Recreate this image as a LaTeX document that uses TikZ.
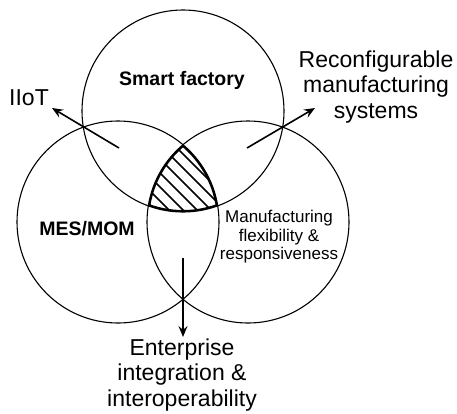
\documentclass[tikz,border=0pt]{standalone}
\usepackage{fontspec}
\setmainfont{Liberation Sans}
\usetikzlibrary{arrows.meta}
\begin{document}
\begin{tikzpicture}[x=1pt,y=-1pt,
  ring/.style={draw,line width=1.1pt},
  arr/.style={line width=1.6pt,-{Stealth[length=11pt,width=9pt,inset=4pt]}},
  big/.style={align=center,font=\fontsize{23}{25.5}\selectfont},
  boldlab/.style={font=\fontsize{19.5}{22}\selectfont\bfseries},
  small/.style={align=center,font=\fontsize{17}{18.5}\selectfont}]
\useasboundingbox (0,0) rectangle (457,413);
\coordinate (T) at (183,111);
\coordinate (L) at (118,222);
\coordinate (R) at (248,222);
\draw[ring] (T) circle[radius=101];
\draw[ring] (L) circle[radius=101];
\draw[ring] (R) circle[radius=101];
\begin{scope}
  \clip (T) circle[radius=101];
  \clip (L) circle[radius=101];
  \clip (R) circle[radius=101];
  \foreach \k in {-120,-113,...,120}
    \draw[line width=1.5pt] ({183+\k-80},{180-\k-80}) -- ({183+\k+80},{180-\k+80});
  \draw[line width=4pt] (T) circle[radius=101];
  \draw[line width=4pt] (L) circle[radius=101];
  \draw[line width=4pt] (R) circle[radius=101];
\end{scope}
\node[boldlab] (sf) at (182,80) {Smart factory};
\node[boldlab] (mes) at (87,229) {MES/MOM};
\node[small] (mfr) at (279,237) {Manufacturing\\flexibility \&\\responsiveness};
\node[big] (iiot) at (29,98) {IIoT};
\node[big] (rms) at (376,87) {Reconfigurable\\manufacturing\\systems};
\node[big] (eii) at (182,375) {Enterprise\\integration \&\\interoperability};
\coordinate (a1s) at (119,148);
\coordinate (a1e) at (52,108);
\coordinate (a2s) at (247,148);
\coordinate (a2e) at (315,108);
\coordinate (a3s) at (183,258);
\coordinate (a3e) at (183,337);
\draw[arr] (a1s) -- (a1e);
\draw[arr] (a2s) -- (a2e);
\draw[arr] (a3s) -- (a3e);
\end{tikzpicture}
\end{document}
